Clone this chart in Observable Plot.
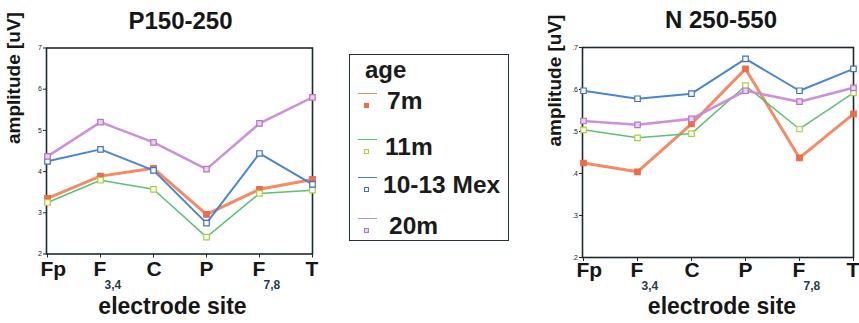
<!DOCTYPE html>
<html>
<head>
<meta charset="utf-8">
<script src="https://cdn.jsdelivr.net/npm/d3@7"></script>
<script src="https://cdn.jsdelivr.net/npm/@observablehq/plot@0.6"></script>
<style>
  html, body { margin: 0; padding: 0; background: #ffffff; }
  #root { position: relative; width: 859px; height: 323px; overflow: hidden; font-family: "Liberation Sans", Arial, sans-serif; color: #1b1b1b; }
  .panel { position: absolute; top: 0; }
  .panel svg { overflow: visible; }
  #legend { position: absolute; left: 349px; top: 54px; width: 158px; height: 185px; border: 1.6px solid #26323a; box-sizing: content-box; font-weight: bold; }
  #legend .hdr { position: absolute; left: 15px; top: 1px; font-size: 24px; }
  #legend .item { position: absolute; left: 0; width: 158px; height: 30px; }
  #legend .sw-line { position: absolute; left: 8px; width: 19px; height: 0; border-top: 1.6px solid; }
  #legend .sw-mark { position: absolute; left: 14px; width: 5px; height: 5px; border: 1.3px solid; box-sizing: border-box; }
  #legend .lbl { position: absolute; font-size: 24.5px; white-space: nowrap; }
</style>
</head>
<body>
<div id="root">
  <div id="left" class="panel" style="left:0px;width:330px;"></div>
  <div id="right" class="panel" style="left:540px;width:319px;"></div>
  <div id="legend"></div>
</div>
<script>
// ---------- data ----------
const sites = ["Fp", "F3,4", "C", "P", "F7,8", "T"];
const tickMain = ["Fp", "F", "C", "P", "F", "T"];
const tickSub = ["", "3,4", "", "", "7,8", ""];
const ages = ["7m", "11m", "10-13 Mex", "20m"];

const titleP = "P150-250";
const titleN = "N 250-550";
const yLabel = "amplitude [uV]";
const xLabel = "electrode site";
const legendTitle = "age";

const p150_7m  = [3.35, 3.89, 4.08, 2.96, 3.57, 3.81];
const p150_11m = [3.25, 3.79, 3.57, 2.41, 3.47, 3.55];
const p150_mex = [4.25, 4.54, 4.03, 2.75, 4.44, 3.69];
const p150_20m = [4.37, 5.20, 4.71, 4.06, 5.17, 5.80];

const n250_7m  = [0.425, 0.404, 0.518, 0.649, 0.437, 0.542];
const n250_11m = [0.504, 0.485, 0.495, 0.609, 0.506, 0.592];
const n250_mex = [0.597, 0.578, 0.590, 0.673, 0.597, 0.649];
const n250_20m = [0.525, 0.516, 0.530, 0.597, 0.571, 0.604];

const yTicksP = [2, 3, 4, 5, 6, 7];
const yTicksN = [0.2, 0.3, 0.4, 0.5, 0.6, 0.7];

// ---------- styles ----------
const seriesStyle = {
  "7m":        { line: "#f4845f", width: 3.0, mark: "#ee6b4b", fill: "#ee6b4b" },
  "11m":       { line: "#52bf6c", width: 1.5, mark: "#a9d13c", fill: "#ffffff" },
  "10-13 Mex": { line: "#3f80d0", width: 2.0, mark: "#3a72c9", fill: "#ffffff" },
  "20m":       { line: "#c98bd6", width: 2.6, mark: "#b477c4", fill: "#ead0f0" }
};
const frameColor = "#1f2a2e";
const font = "'Liberation Sans', Arial, sans-serif";

function buildRows(seriesList) {
  const rows = [];
  ages.forEach((age, i) => {
    sites.forEach((s, j) => rows.push({ age, site: s, value: seriesList[i][j] }));
  });
  return rows;
}

function makeChart(o) {
  const rows = buildRows(o.series);
  const marks = [
    Plot.frame({ stroke: frameColor, strokeWidth: 1.6 }),
    Plot.axisY({ ticks: o.yTicks, label: null, tickSize: 3, tickPadding: 1.5, fontSize: 7, tickFormat: o.fmt, stroke: frameColor }),
    Plot.axisX({ label: null, tickSize: 4, tickFormat: () => "", stroke: frameColor })
  ];
  ages.forEach(age => {
    const st = seriesStyle[age];
    const data = rows.filter(r => r.age === age);
    marks.push(Plot.line(data, { x: "site", y: "value", stroke: st.line, strokeWidth: st.width, strokeOpacity: 0.95 }));
  });
  ages.forEach(age => {
    const st = seriesStyle[age];
    const data = rows.filter(r => r.age === age);
    marks.push(Plot.dot(data, { x: "site", y: "value", symbol: "square", r: 3.1, stroke: st.mark, fill: st.fill, strokeWidth: 1.2 }));
  });
  marks.push(
    Plot.text(sites, { x: d => d, frameAnchor: "bottom", lineAnchor: "middle", text: (d, i) => tickMain[i],
      textAnchor: "start", dx: -7, dy: o.tickDy, fontSize: 21, fontWeight: "bold", fill: "#161616" }),
    Plot.text(sites, { x: d => d, frameAnchor: "bottom", lineAnchor: "middle", text: (d, i) => tickSub[i],
      textAnchor: "start", dx: 4, dy: o.tickDy + 16, fontSize: 12, fontWeight: "bold", fill: "#1f3b4b" }),
    Plot.text([xLabel], { frameAnchor: "bottom", lineAnchor: "middle", dx: o.xlabDx, dy: o.xlabDy,
      fontSize: 23, fontWeight: "bold", fill: "#161616" }),
    Plot.text([yLabel], { frameAnchor: "left", lineAnchor: "middle", rotate: -90, dx: o.ylabDx, dy: o.ylabDy,
      fontSize: 19, fontWeight: "bold", fill: "#161616" }),
    Plot.text([o.title], { frameAnchor: "top", lineAnchor: "middle", dx: o.titleDx, dy: -27,
      fontSize: 24, fontWeight: "bold", fill: "#161616" })
  );
  return Plot.plot({
    width: o.width,
    height: 323,
    marginLeft: o.ml, marginRight: o.mr, marginTop: o.mt, marginBottom: o.mb,
    x: { type: "point", domain: sites, padding: 0, axis: null, label: null },
    y: { domain: o.yDomain, axis: null, label: null },
    style: { fontFamily: font, background: "transparent", color: "#222", overflow: "visible" },
    marks
  });
}

document.getElementById("left").appendChild(makeChart({
  series: [p150_7m, p150_11m, p150_mex, p150_20m],
  yDomain: [2, 7], yTicks: yTicksP, fmt: d => String(d),
  width: 330, ml: 46, mr: 18, mt: 47.5, mb: 69.5,
  tickDy: 15, xlabDx: -7, xlabDy: 53, ylabDx: -33, ylabDy: -7, titleDx: 1, title: titleP
}));

document.getElementById("right").appendChild(makeChart({
  series: [n250_7m, n250_11m, n250_mex, n250_20m],
  yDomain: [0.2, 0.7], yTicks: yTicksN, fmt: d => d3.format(".1f")(d).replace(/^0/, ""),
  width: 319, ml: 42, mr: 6, mt: 47, mb: 66,
  tickDy: 13, xlabDx: 4, xlabDy: 49, ylabDx: -28, ylabDy: -6, titleDx: 3, title: titleN
}));

// ---------- legend ----------
const legend = document.getElementById("legend");
const hdr = document.createElement("div");
hdr.className = "hdr"; hdr.textContent = legendTitle;
legend.appendChild(hdr);
const itemTops = [36, 82, 120, 161];
const labelLeft = [37, 35, 33, 39];
ages.forEach((age, i) => {
  const st = seriesStyle[age];
  const it = document.createElement("div");
  it.className = "item"; it.style.top = itemTops[i] + "px";
  const ln = document.createElement("div");
  ln.className = "sw-line"; ln.style.top = "2px"; ln.style.borderTopColor = st.line;
  const mk = document.createElement("div");
  mk.className = "sw-mark"; mk.style.top = "12px"; mk.style.borderColor = st.mark; mk.style.background = st.fill;
  const lb = document.createElement("div");
  lb.className = "lbl"; lb.style.left = labelLeft[i] + "px"; lb.style.top = "-4px"; lb.textContent = age;
  it.appendChild(ln); it.appendChild(mk); it.appendChild(lb);
  legend.appendChild(it);
});
</script>
</body>
</html>
